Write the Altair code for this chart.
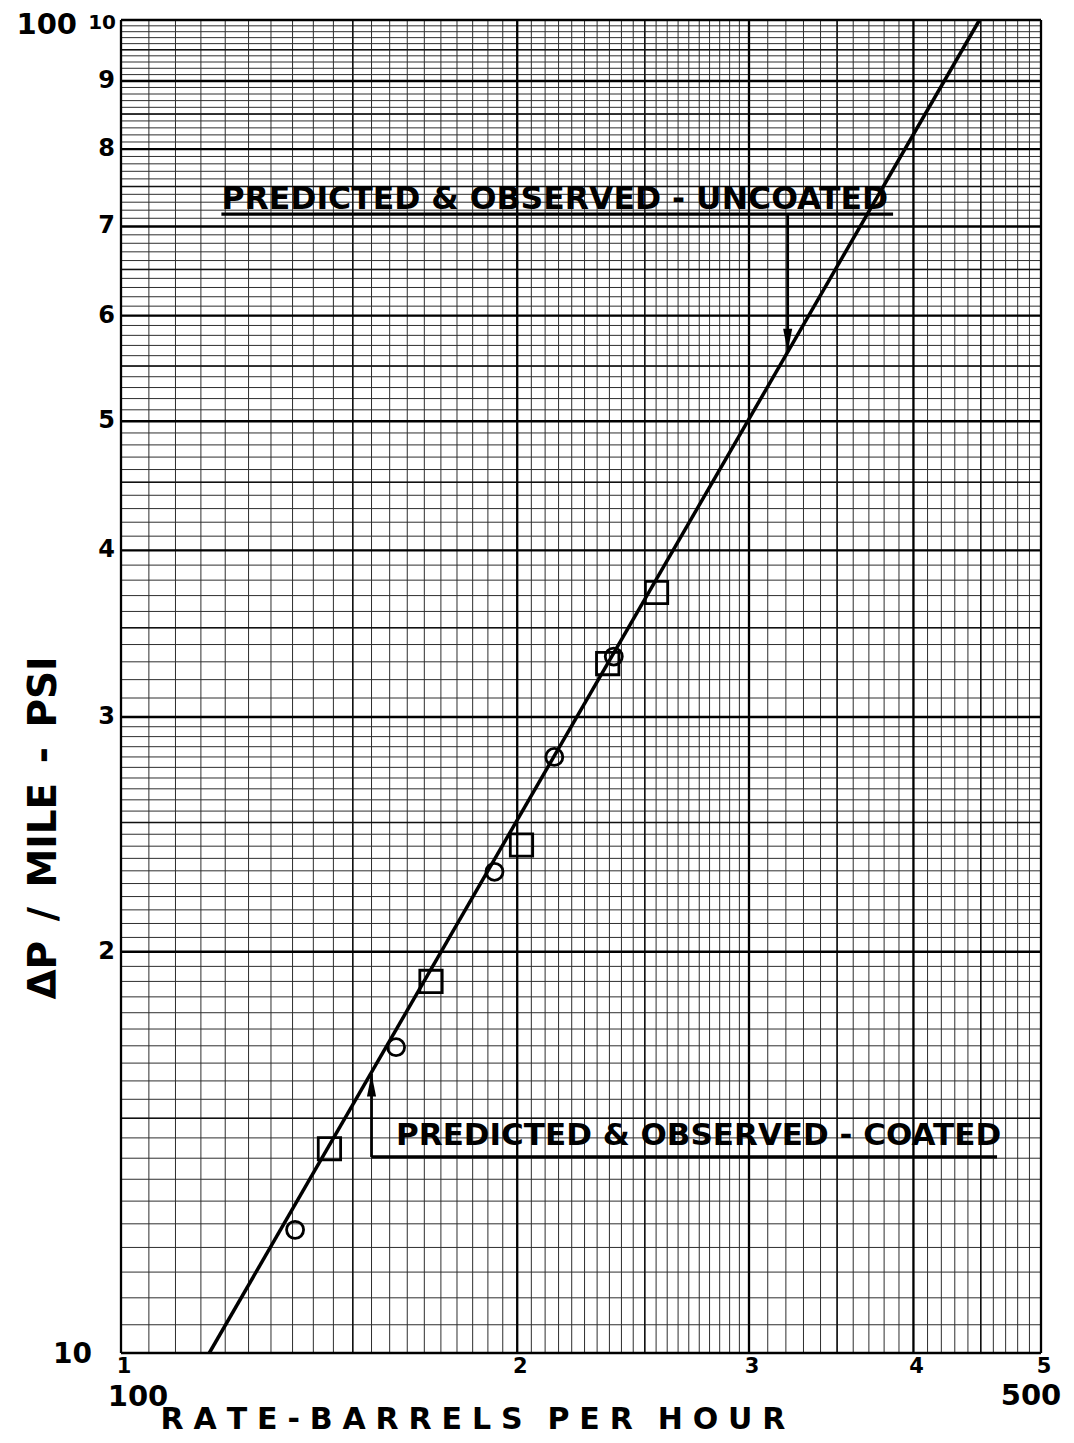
import altair as alt
import pandas as pd
import numpy as np

# ---- data ----
rate_circles = [135.6, 161.8, 192.2, 213.4, 236.8]
dp_circles = [12.37, 16.96, 22.96, 28.0, 33.3]
rate_squares = [144.0, 172.0, 201.5, 234.3, 255.2]
dp_squares = [14.23, 19.0, 24.05, 32.9, 37.2]
rate_line = [116.7, 449.0]
dp_line = [10.0, 100.0]

# ---- tick labels ----
y_tick_values = [20, 30, 40, 50, 60, 70, 80, 90]
y_tick_labels = ["2", "3", "4", "5", "6", "7", "8", "9"]
x_tick_values = [100, 200, 300, 400, 500]
x_tick_labels = ["1", "2", "3", "4", "5"]

# ---- annotations (data coordinates) ----
unc_text = "PREDICTED & OBSERVED - UNCOATED"
unc_text_pos = (119.2, 73.3)
unc_under = (119.2, 386.0, 71.5)   # x1, x2, y
unc_arrow = (321.0, 71.5, 56.4)    # x, y_from, y_tip

coat_text = "PREDICTED & OBSERVED - COATED"
coat_text_pos = (161.8, 14.56)
coat_under = (155.0, 463.0, 14.03)
coat_arrow = (155.0, 14.03, 16.2)

W, H = 920, 1333
FONT = "DejaVu Sans"
xs = alt.Scale(type="log", domain=[100, 500], nice=False)
ys = alt.Scale(type="log", domain=[10, 100], nice=False)

# graph paper rulings
x_minor = list(np.arange(100, 300, 5)) + list(np.arange(300, 501, 10))
x_medium = [150, 250, 350, 450]
x_major = [100, 200, 300, 400, 500]
y_minor = list(np.arange(10, 30, 0.5)) + list(np.arange(30, 100.5, 1))
y_medium = [15, 25, 35, 45, 55, 65, 75, 85, 95]
y_major = [10, 20, 30, 40, 50, 60, 70, 80, 90, 100]


def vgrid(vals, w, color):
    return alt.Chart(pd.DataFrame({"v": vals})).mark_rule(
        strokeWidth=w, color=color
    ).encode(x=alt.X("v:Q", scale=xs, axis=None))


def hgrid(vals, w, color):
    return alt.Chart(pd.DataFrame({"v": vals})).mark_rule(
        strokeWidth=w, color=color
    ).encode(y=alt.Y("v:Q", scale=ys, axis=None))


grid = [
    vgrid(x_minor, 1.0, "#2e2e2e"),
    hgrid(y_minor, 1.0, "#2e2e2e"),
    vgrid(x_medium, 1.5, "#111111"),
    hgrid(y_medium, 1.5, "#111111"),
    vgrid(x_major, 2.3, "#000000"),
    hgrid(y_major, 2.3, "#000000"),
]

line = alt.Chart(pd.DataFrame({"r": rate_line, "d": dp_line})).mark_line(
    color="black", strokeWidth=3.5
).encode(
    x=alt.X("r:Q", scale=xs, axis=None),
    y=alt.Y("d:Q", scale=ys, axis=None),
)

circles = alt.Chart(pd.DataFrame({"r": rate_circles, "d": dp_circles})).mark_point(
    shape="circle", filled=False, size=290, strokeWidth=2.8, color="black", opacity=1
).encode(
    x=alt.X("r:Q", scale=xs, axis=None),
    y=alt.Y("d:Q", scale=ys, axis=None),
)

squares = alt.Chart(pd.DataFrame({"r": rate_squares, "d": dp_squares})).mark_point(
    shape="square", filled=False, size=500, strokeWidth=2.8, color="black", opacity=1
).encode(
    x=alt.X("r:Q", scale=xs, axis=None),
    y=alt.Y("d:Q", scale=ys, axis=None),
)


def ann_text(txt, pos, size):
    return alt.Chart(pd.DataFrame({"x": [pos[0]], "y": [pos[1]], "t": [txt]})).mark_text(
        align="left", baseline="middle", font=FONT, fontSize=size, fontWeight="bold", color="black"
    ).encode(
        x=alt.X("x:Q", scale=xs, axis=None),
        y=alt.Y("y:Q", scale=ys, axis=None),
        text="t:N",
    )


def hrule(spec):
    return alt.Chart(pd.DataFrame({"x1": [spec[0]], "x2": [spec[1]], "y": [spec[2]]})).mark_rule(
        color="black", strokeWidth=3.2
    ).encode(
        x=alt.X("x1:Q", scale=xs, axis=None),
        x2="x2:Q",
        y=alt.Y("y:Q", scale=ys, axis=None),
    )


def vrule(spec):
    return alt.Chart(pd.DataFrame({"x": [spec[0]], "y1": [spec[1]], "y2": [spec[2]]})).mark_rule(
        color="black", strokeWidth=2.8
    ).encode(
        x=alt.X("x:Q", scale=xs, axis=None),
        y=alt.Y("y1:Q", scale=ys, axis=None),
        y2="y2:Q",
    )


def arrowhead(spec, down):
    shape = "M-0.4,-1L0.4,-1L0,1Z" if down else "M-0.4,1L0.4,1L0,-1Z"
    return alt.Chart(pd.DataFrame({"x": [spec[0]], "y": [spec[2]]})).mark_point(
        shape=shape, filled=True, size=520, color="black", opacity=1,
        yOffset=-11.4 if down else 11.4,
    ).encode(
        x=alt.X("x:Q", scale=xs, axis=None),
        y=alt.Y("y:Q", scale=ys, axis=None),
    )


annotations = [
    ann_text(unc_text, unc_text_pos, 31.5),
    hrule(unc_under),
    vrule(unc_arrow),
    arrowhead(unc_arrow, True),
    ann_text(coat_text, coat_text_pos, 31),
    hrule(coat_under),
    vrule(coat_arrow),
    arrowhead(coat_arrow, False),
]

# y tick labels 2..9
ylab = alt.Chart(pd.DataFrame({"v": y_tick_values, "t": y_tick_labels})).mark_text(
    align="right", baseline="middle", font=FONT, fontSize=24, fontWeight="bold", color="black"
).encode(
    x=alt.value(-6),
    y=alt.Y("v:Q", scale=ys, axis=None),
    text="t:N",
)


def single_label(val, txt, size, axis, xpix=None, ypix=None, align="center", dx=0, dy=0):
    base = alt.Chart(pd.DataFrame({"v": [val], "t": [txt]})).mark_text(
        align=align, baseline="middle", font=FONT, fontSize=size, fontWeight="bold",
        color="black", dx=dx, dy=dy,
    )
    if axis == "y":
        return base.encode(x=alt.value(xpix), y=alt.Y("v:Q", scale=ys, axis=None), text="t:N")
    return base.encode(x=alt.X("v:Q", scale=xs, axis=None), y=alt.value(ypix), text="t:N")


# decade labels
y_dec = single_label(100, "10", 20, "y", xpix=-5, align="right", dy=3)
y_big_top = single_label(100, "100", 29, "y", xpix=-44, align="right", dy=5)
y_big_bot = single_label(10, "10", 28, "y", xpix=-29, align="right", dy=2)
x_big_left = single_label(100, "100", 29, "x", ypix=H + 44, dx=17)
x_big_right = single_label(500, "500", 29, "x", ypix=H + 43, dx=-10)

# x tick labels 1..5
xlab = alt.Chart(pd.DataFrame({"v": x_tick_values, "t": x_tick_labels})).mark_text(
    align="center", baseline="middle", font=FONT, fontSize=21, fontWeight="bold", color="black", dx=3
).encode(x=alt.X("v:Q", scale=xs, axis=None), y=alt.value(H + 14), text="t:N")

GAP = "\u2004"
WORD = "\u2004\u2002"
x_title_text = WORD.join(GAP.join(w) for w in ["RATE-BARRELS", "PER", "HOUR"])
x_title = alt.Chart(pd.DataFrame({"t": [x_title_text]})).mark_text(
    align="center", baseline="middle", font=FONT, fontSize=30, fontWeight="bold", color="black"
).encode(x=alt.value(352), y=alt.value(H + 67), text="t:N")

SP = "\u2002"
y_title_text = "ΔP" + SP + "/" + SP + "MILE" + SP + "-" + SP + "PSI"
y_title = alt.Chart(pd.DataFrame({"t": [y_title_text]})).mark_text(
    align="center", baseline="middle", font=FONT, fontSize=39, fontWeight="bold", color="black", angle=270
).encode(x=alt.value(-77), y=alt.value(808), text="t:N")

chart = alt.layer(
    *grid, line, circles, squares, *annotations,
    ylab, y_dec, y_big_top, y_big_bot, x_big_left, x_big_right, xlab, x_title, y_title
).properties(
    width=W, height=H,
    autosize=alt.AutoSizeParams(type="none"),
    padding={"left": 113, "top": 12, "right": 25, "bottom": 90},
    background="white",
).configure_view(stroke=None)

chart.save("out.html", embed_options={"renderer": "svg", "actions": False})
